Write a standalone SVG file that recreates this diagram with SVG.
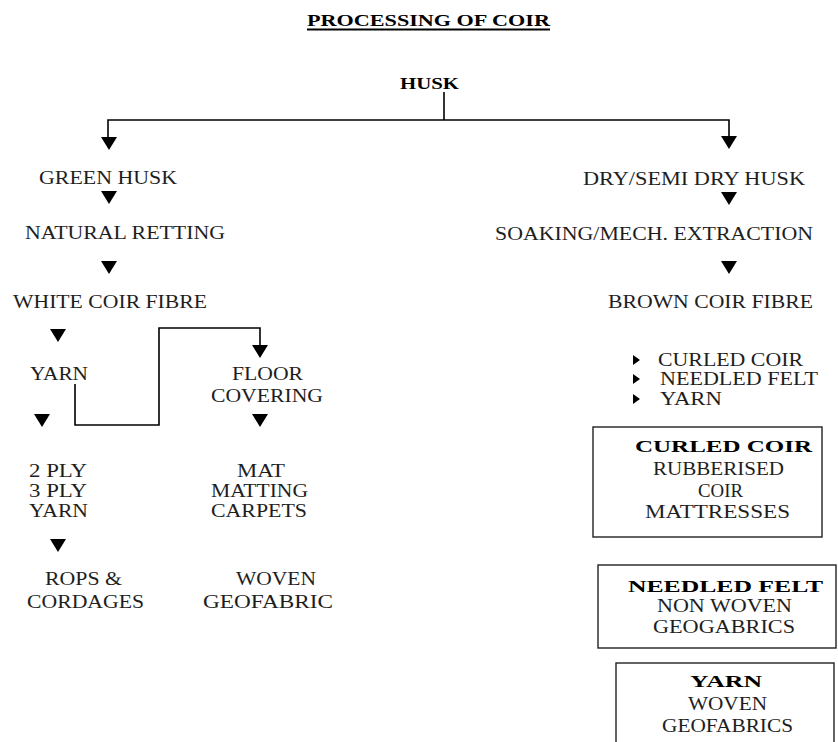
<svg xmlns="http://www.w3.org/2000/svg" xmlns:xlink="http://www.w3.org/1999/xlink" width="838" height="742" viewBox="0 0 838 742">
<style>
text{font-family:'Liberation Serif','Times New Roman',Tinos,serif;font-size:18px;fill:#1e1e1e}
.b{font-weight:bold;fill:#000;font-size:17px}
.ln{fill:none;stroke:#000;stroke-width:1.6}
.bx{fill:none;stroke:#222;stroke-width:1.4}
.ah{fill:#000}
</style>
<defs>
<path id="ah" d="M-8,0 L8,0 L0,13 Z"/>
<path id="bl" d="M0,-5 L7,0 L0,5 Z"/>
</defs>
<rect width="838" height="742" fill="#fff"/>

<g id="title">
<text class="b" x="307" y="26" textLength="243" lengthAdjust="spacingAndGlyphs">PROCESSING OF COIR</text>
<line x1="307" y1="29.5" x2="550" y2="29.5" stroke="#000" stroke-width="2"/>
</g>

<g id="connectors">
<polyline class="ln" points="444,92 444,120"/>
<polyline class="ln" points="108,138 108,120 729,120 729,138"/>
<polyline class="ln" points="75,384 75,425 159,425 159,328 260,328 260,346"/>
<g class="ah">
<use xlink:href="#ah" x="109" y="137"/>
<use xlink:href="#ah" x="109" y="191"/>
<use xlink:href="#ah" x="109" y="261"/>
<use xlink:href="#ah" x="729" y="136"/>
<use xlink:href="#ah" x="729" y="192"/>
<use xlink:href="#ah" x="729" y="261"/>
<use xlink:href="#ah" x="58" y="329"/>
<use xlink:href="#ah" x="42" y="414"/>
<use xlink:href="#ah" x="58" y="539"/>
<use xlink:href="#ah" x="260" y="345"/>
<use xlink:href="#ah" x="260" y="414"/>
</g>
</g>

<g id="husk"><text class="b" x="400" y="89" textLength="59" lengthAdjust="spacingAndGlyphs">HUSK</text></g>
<g id="green-husk"><text x="39" y="184" textLength="138" lengthAdjust="spacingAndGlyphs">GREEN HUSK</text></g>
<g id="natural-retting"><text x="25" y="239" textLength="200" lengthAdjust="spacingAndGlyphs">NATURAL RETTING</text></g>
<g id="white-coir-fibre"><text x="13" y="308" textLength="194" lengthAdjust="spacingAndGlyphs">WHITE COIR FIBRE</text></g>
<g id="dry-husk"><text x="583" y="185" textLength="222" lengthAdjust="spacingAndGlyphs">DRY/SEMI DRY HUSK</text></g>
<g id="soaking"><text x="495" y="240" textLength="318" lengthAdjust="spacingAndGlyphs">SOAKING/MECH. EXTRACTION</text></g>
<g id="brown-coir-fibre"><text x="608" y="308" textLength="205" lengthAdjust="spacingAndGlyphs">BROWN COIR FIBRE</text></g>

<g id="yarn"><text x="30" y="380" textLength="58" lengthAdjust="spacingAndGlyphs">YARN</text></g>
<g id="floor-covering">
<text x="232" y="380" textLength="71" lengthAdjust="spacingAndGlyphs">FLOOR</text>
<text x="211" y="402" textLength="112" lengthAdjust="spacingAndGlyphs">COVERING</text>
</g>
<g id="ply-yarn">
<text x="29" y="477" textLength="58" lengthAdjust="spacingAndGlyphs">2 PLY</text>
<text x="29" y="497" textLength="58" lengthAdjust="spacingAndGlyphs">3 PLY</text>
<text x="29" y="517" textLength="59" lengthAdjust="spacingAndGlyphs">YARN</text>
</g>
<g id="mat">
<text x="237" y="477" textLength="48" lengthAdjust="spacingAndGlyphs">MAT</text>
<text x="211" y="497" textLength="97" lengthAdjust="spacingAndGlyphs">MATTING</text>
<text x="211" y="517" textLength="96" lengthAdjust="spacingAndGlyphs">CARPETS</text>
</g>
<g id="rops">
<text x="45" y="585" textLength="77" lengthAdjust="spacingAndGlyphs">ROPS &amp;</text>
<text x="27" y="608" textLength="117" lengthAdjust="spacingAndGlyphs">CORDAGES</text>
</g>
<g id="woven-geofabric">
<text x="236" y="585" textLength="80" lengthAdjust="spacingAndGlyphs">WOVEN</text>
<text x="203" y="608" textLength="130" lengthAdjust="spacingAndGlyphs">GEOFABRIC</text>
</g>

<g id="products-list">
<use xlink:href="#bl" x="633" y="360" class="ah"/>
<use xlink:href="#bl" x="633" y="379" class="ah"/>
<use xlink:href="#bl" x="633" y="399" class="ah"/>
<text x="658" y="366" textLength="145" lengthAdjust="spacingAndGlyphs">CURLED COIR</text>
<text x="660" y="385" textLength="158" lengthAdjust="spacingAndGlyphs">NEEDLED FELT</text>
<text x="660" y="405" textLength="62" lengthAdjust="spacingAndGlyphs">YARN</text>
</g>

<g id="box-curled-coir">
<rect class="bx" x="593" y="427" width="229" height="110"/>
<text class="b" x="635" y="452" textLength="177" lengthAdjust="spacingAndGlyphs">CURLED COIR</text>
<text x="653" y="475" textLength="131" lengthAdjust="spacingAndGlyphs">RUBBERISED</text>
<text x="698" y="497" textLength="45" lengthAdjust="spacingAndGlyphs">COIR</text>
<text x="645" y="518" textLength="145" lengthAdjust="spacingAndGlyphs">MATTRESSES</text>
</g>

<g id="box-needled-felt">
<rect class="bx" x="598" y="565" width="238" height="83"/>
<text class="b" x="628" y="592" textLength="195" lengthAdjust="spacingAndGlyphs">NEEDLED FELT</text>
<text x="657" y="612" textLength="135" lengthAdjust="spacingAndGlyphs">NON WOVEN</text>
<text x="653" y="633" textLength="142" lengthAdjust="spacingAndGlyphs">GEOGABRICS</text>
</g>

<g id="box-yarn">
<rect class="bx" x="616" y="663" width="218" height="90"/>
<text class="b" x="690" y="687" textLength="72" lengthAdjust="spacingAndGlyphs">YARN</text>
<text x="688" y="710" textLength="79" lengthAdjust="spacingAndGlyphs">WOVEN</text>
<text x="662" y="732" textLength="131" lengthAdjust="spacingAndGlyphs">GEOFABRICS</text>
</g>
</svg>
